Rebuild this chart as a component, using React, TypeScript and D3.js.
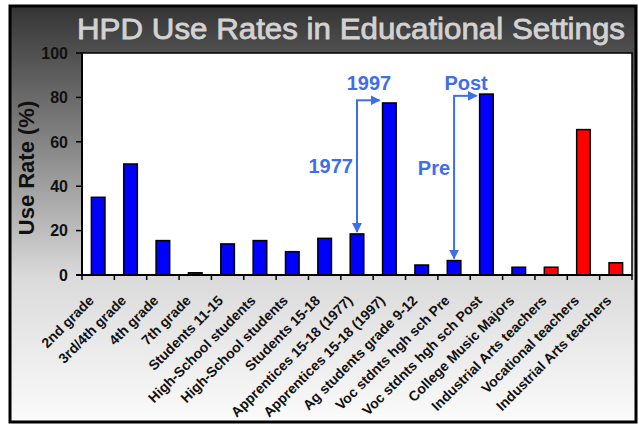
import React, { useEffect, useRef } from 'react';
import * as d3 from 'd3';

const categories = [
  '2nd grade',
  '3rd/4th grade',
  '4th grade',
  '7th grade',
  'Students 11-15',
  'High-School students',
  'High-School students',
  'Students 15-18',
  'Apprentices 15-18 (1977)',
  'Apprentices 15-18 (1997)',
  'Ag students grade 9-12',
  'Voc stdnts hgh sch Pre',
  'Voc stdnts hgh sch Post',
  'College Music Majors',
  'Industrial Arts teachers',
  'Vocational teachers',
  'Industrial Arts teachers',
];
const useRates = [35, 50, 15.5, 1, 14, 15.5, 10.5, 16.5, 18.5, 77.5, 4.5, 6.5, 81.5, 3.5, 3.5, 65.5, 5.5];
const teacherGroup = [false, false, false, false, false, false, false, false, false, false, false, false, false, false, true, true, true];
const yTicks = [0, 20, 40, 60, 80, 100];

// arrows from "before" bar up and across to the "after" bar
const comparisons = [
  { from: 8, to: 9, elbow: 78.7, before: '1977', after: '1997', beforeY: 46, afterY: 83.3 },
  { from: 11, to: 12, elbow: 80.7, before: 'Pre', after: 'Post', beforeY: 45, afterY: 83.3 },
];

const W = 639;
const H = 424;
const plot = { left: 82, right: 632, top: 53, bottom: 275 };
const annBlue = '#3f6fe8';
const font = 'Liberation Sans, Arial, sans-serif';

export default function App() {
  const ref = useRef<SVGSVGElement>(null);

  useEffect(() => {
    if (!ref.current) return;
    const svg = d3.select(ref.current);
    svg.selectAll('*').remove();

    const defs = svg.append('defs');
    const grad = defs
      .append('linearGradient')
      .attr('id', 'bg')
      .attr('x1', 0)
      .attr('y1', 0)
      .attr('x2', 0)
      .attr('y2', 1);
    grad.append('stop').attr('offset', '0%').attr('stop-color', '#343434');
    grad.append('stop').attr('offset', '35%').attr('stop-color', '#8a8a8a');
    grad.append('stop').attr('offset', '65%').attr('stop-color', '#dadada');
    grad.append('stop').attr('offset', '100%').attr('stop-color', '#fbfbfb');

    defs
      .append('marker')
      .attr('id', 'arr')
      .attr('viewBox', '0 0 10 10')
      .attr('refX', 9)
      .attr('refY', 5)
      .attr('markerWidth', 5)
      .attr('markerHeight', 5)
      .attr('orient', 'auto')
      .append('path')
      .attr('d', 'M0,0L10,5L0,10z')
      .attr('fill', annBlue);

    // frame
    svg
      .append('rect')
      .attr('x', 10)
      .attr('y', 6)
      .attr('width', 626)
      .attr('height', 416)
      .attr('fill', 'url(#bg)')
      .attr('stroke', '#000')
      .attr('stroke-width', 3);

    svg
      .append('text')
      .attr('x', 77)
      .attr('y', 39)
      .attr('font-family', font)
      .attr('font-size', 29)
      .attr('fill', '#d2d2d2')
      .attr('stroke', '#d2d2d2')
      .attr('stroke-width', 0.8)
      .attr('textLength', 548)
      .attr('lengthAdjust', 'spacingAndGlyphs')
      .text('HPD Use Rates in Educational Settings');

    const x = d3
      .scaleBand()
      .domain(categories.map((_, i) => String(i)))
      .range([plot.left, plot.right])
      .paddingInner(0.58)
      .paddingOuter(0.29);

    const y = d3.scaleLinear().domain([0, 100]).range([plot.bottom, plot.top]);

    svg
      .append('rect')
      .attr('x', plot.left)
      .attr('y', plot.top)
      .attr('width', plot.right - plot.left)
      .attr('height', plot.bottom - plot.top)
      .attr('fill', '#fff')
      .attr('stroke', '#000')
      .attr('stroke-width', 1.5);

    // bars
    svg
      .selectAll('rect.bar')
      .data(useRates)
      .enter()
      .append('rect')
      .attr('class', 'bar')
      .attr('x', (_, i) => x(String(i))!)
      .attr('y', (d) => y(d))
      .attr('width', x.bandwidth())
      .attr('height', (d) => y(0) - y(d))
      .attr('fill', (_, i) => (teacherGroup[i] ? '#ff0000' : '#0000ff'))
      .attr('stroke', '#000')
      .attr('stroke-width', 1.5);

    // y axis
    const yAxis = svg.append('g');
    yAxis
      .append('line')
      .attr('x1', plot.left)
      .attr('x2', plot.left)
      .attr('y1', plot.top)
      .attr('y2', plot.bottom)
      .attr('stroke', '#000')
      .attr('stroke-width', 2);
    yAxis
      .selectAll('line.tick')
      .data(yTicks)
      .enter()
      .append('line')
      .attr('class', 'tick')
      .attr('x1', plot.left - 6)
      .attr('x2', plot.left)
      .attr('y1', (d) => y(d))
      .attr('y2', (d) => y(d))
      .attr('stroke', '#000')
      .attr('stroke-width', 1.5);
    yAxis
      .selectAll('text')
      .data(yTicks)
      .enter()
      .append('text')
      .attr('x', 68)
      .attr('y', (d) => y(d))
      .attr('dy', '0.36em')
      .attr('text-anchor', 'end')
      .attr('font-family', font)
      .attr('font-weight', 'bold')
      .attr('font-size', 16)
      .attr('fill', '#111')
      .text((d) => d);

    svg
      .append('text')
      .attr('transform', `translate(34,168) rotate(-90)`)
      .attr('text-anchor', 'middle')
      .attr('font-family', font)
      .attr('font-weight', 'bold')
      .attr('font-size', 22)
      .attr('fill', '#111')
      .text('Use Rate (%)');

    // x axis
    const xAxis = svg.append('g');
    xAxis
      .append('line')
      .attr('x1', plot.left - 6)
      .attr('x2', plot.right)
      .attr('y1', plot.bottom)
      .attr('y2', plot.bottom)
      .attr('stroke', '#000')
      .attr('stroke-width', 2);
    const edges = categories.map((_, i) => x(String(i))! + x.bandwidth() / 2 - x.step() / 2);
    edges.push(edges[edges.length - 1] + x.step());
    xAxis
      .selectAll('line.tick')
      .data(edges)
      .enter()
      .append('line')
      .attr('class', 'tick')
      .attr('x1', (d) => d)
      .attr('x2', (d) => d)
      .attr('y1', plot.bottom)
      .attr('y2', plot.bottom + 5)
      .attr('stroke', '#000')
      .attr('stroke-width', 1.5);
    xAxis
      .selectAll('text')
      .data(categories)
      .enter()
      .append('text')
      .attr('transform', (_, i) => `translate(${x(String(i))! + x.bandwidth() / 2 - 7},${plot.bottom + 23}) rotate(-45)`)
      .attr('dy', '0.35em')
      .attr('text-anchor', 'end')
      .attr('font-family', font)
      .attr('font-weight', 'bold')
      .attr('font-size', 14)
      .attr('fill', '#111')
      .text((d) => d);

    // annotations
    const ann = svg.append('g');
    comparisons.forEach((c) => {
      const cx = x(String(c.from))! + x.bandwidth() / 2;
      const ey = y(c.elbow);
      ann
        .append('line')
        .attr('x1', cx)
        .attr('x2', cx)
        .attr('y1', ey)
        .attr('y2', y(useRates[c.from]) - 2)
        .attr('stroke', annBlue)
        .attr('stroke-width', 2)
        .attr('marker-end', 'url(#arr)');
      ann
        .append('line')
        .attr('x1', cx - 1)
        .attr('x2', x(String(c.to))! - 3)
        .attr('y1', ey)
        .attr('y2', ey)
        .attr('stroke', annBlue)
        .attr('stroke-width', 2)
        .attr('marker-end', 'url(#arr)');
      ann
        .append('text')
        .attr('x', cx - 4)
        .attr('y', y(c.beforeY))
        .attr('text-anchor', 'end')
        .attr('font-family', font)
        .attr('font-weight', 'bold')
        .attr('font-size', 20)
        .attr('fill', annBlue)
        .text(c.before);
      ann
        .append('text')
        .attr('x', cx + 12)
        .attr('y', y(c.afterY))
        .attr('text-anchor', 'middle')
        .attr('font-family', font)
        .attr('font-weight', 'bold')
        .attr('font-size', 20)
        .attr('fill', annBlue)
        .text(c.after);
    });
  }, []);

  return (
    <svg
      ref={ref}
      width={W}
      height={H}
      style={{ position: 'absolute', left: 0, top: 0, background: '#fff' }}
    ></svg>
  );
}
